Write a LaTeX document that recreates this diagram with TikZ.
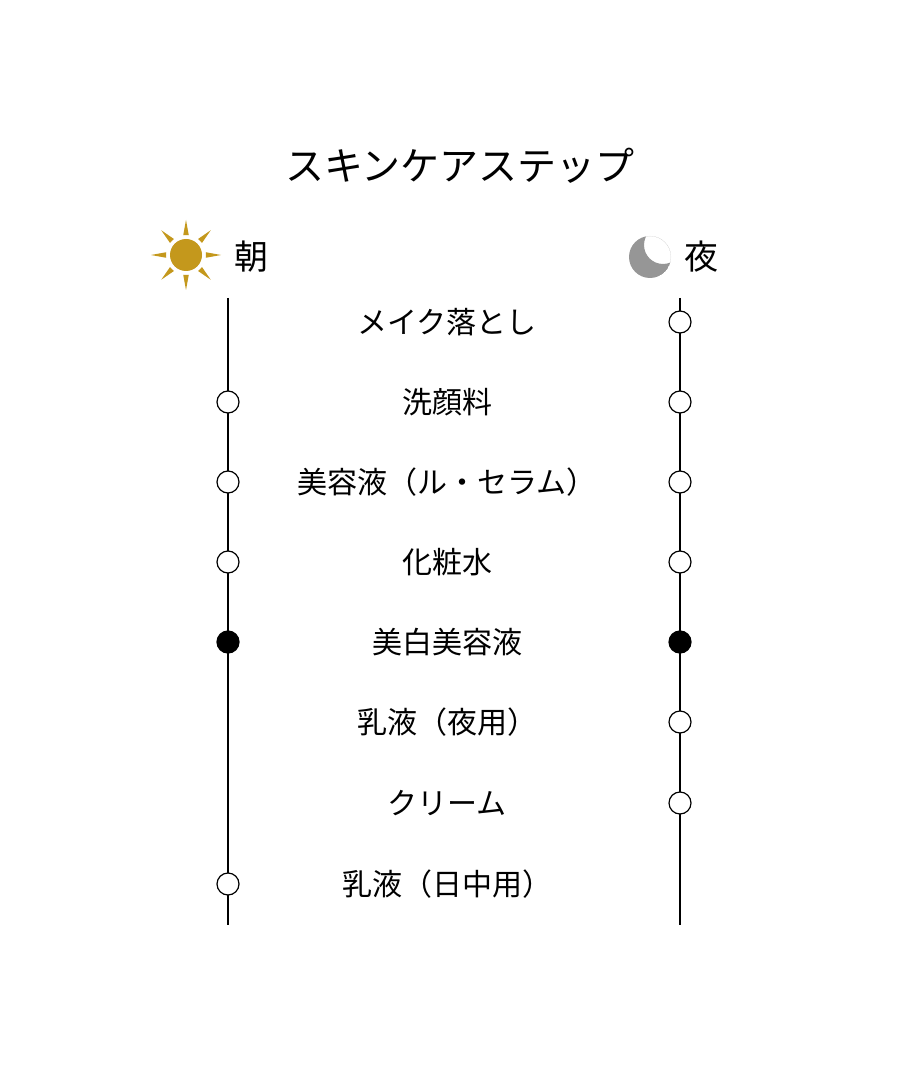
\documentclass[tikz,border=0pt]{standalone}
\usepackage{fontspec}
\usetikzlibrary{calc}
\newfontfamily\cjk{Noto Sans CJK JP}
\definecolor{sungold}{RGB}{196,152,28}
\definecolor{moongray}{RGB}{150,150,150}
\tikzset{
  dot/.style={circle,draw=black,fill=white,line width=0.6pt,minimum size=11pt,inner sep=0pt},
  dotfull/.style={dot,fill=black},
  lbl/.style={font=\cjk\fontsize{15}{16}\selectfont,inner sep=0pt},
  rail/.style={line width=0.6pt}
}
\begin{document}
\begin{tikzpicture}[x=0.5pt,y=-0.5pt]
\useasboundingbox[fill=white] (0,0) rectangle (900,1080);
\node[font=\cjk\fontsize{19.5}{21}\selectfont] (title) at (460,166) {スキンケアステップ};
% sun
\fill[sungold] (186,255) circle (16);
\foreach \a in {0,45,...,315}{
  \fill[sungold] ($(186,255)+(\a:20)$) -- ($(186,255)+(\a+8:20)$) -- ($(186,255)+(\a:35)$) -- ($(186,255)+(\a-8:20)$) -- cycle;
}
\node[font=\cjk\fontsize{17}{18}\selectfont] (asa) at (251,257) {朝};
% moon
\begin{scope}
  \clip (650,257) circle (21);
  \fill[moongray,even odd rule] (650,257) circle (21) (663,245) circle (19);
\end{scope}
\node[font=\cjk\fontsize{17}{18}\selectfont] (yoru) at (701,257) {夜};
\coordinate (Ltop) at (228,298); \coordinate (Lbot) at (228,925);
\coordinate (Rtop) at (680,298); \coordinate (Rbot) at (680,925);
\draw[rail] (Ltop) -- (Lbot);
\draw[rail] (Rtop) -- (Rbot);
\foreach \y/\t [count=\i] in {322/メイク落とし,402/洗顔料,482/美容液（ル・セラム）,562/化粧水,642/美白美容液,722/乳液（夜用）,803/クリーム,884/乳液（日中用）}{
  \node[lbl] (t\i) at (447,\y) {\t};
}
\foreach \y/\n in {402/a,482/b,562/c,884/d}{ \node[dot] (L\n) at (228,\y) {}; }
\node[dotfull] (Lw) at (228,642) {};
\foreach \y/\n in {322/a,402/b,482/c,562/d,722/e,803/f}{ \node[dot] (R\n) at (680,\y) {}; }
\node[dotfull] (Rw) at (680,642) {};
\end{tikzpicture}
\end{document}
